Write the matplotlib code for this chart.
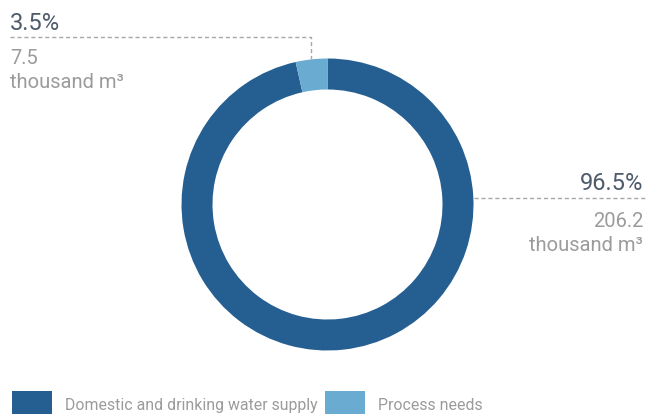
import numpy as np
import matplotlib
matplotlib.use("Agg")
import matplotlib.pyplot as plt
from matplotlib.patches import Rectangle

# ---------------------------------------------------------------------------
# Data
# ---------------------------------------------------------------------------
labels = ["Domestic and drinking water supply", "Process needs"]
shares = [96.5, 3.5]
volumes = ["206.2", "7.5"]
colors = ["#255f92", "#6aabd2"]

TXT_DARK = "#4f5b6b"
TXT_GREY = "#9b9b9b"
LINE_GREY = "#a8a8a8"
FONT = "Roboto"

W, H = 647, 418
fig = plt.figure(figsize=(W / 100, H / 100), dpi=100)
ax = fig.add_axes([0, 0, 1, 1])

cx, cy, r_out, width = 327.5, H - 204.5, 146, 31

ax.pie(
    shares, colors=colors, startangle=90, counterclock=False,
    radius=r_out, center=(cx, cy),
    wedgeprops=dict(width=width, linewidth=0),
)
ax.set_xlim(0, W)
ax.set_ylim(0, H)
ax.set_aspect("equal")
ax.axis("off")

# ---- left label (process needs) -------------------------------------------
mid = np.deg2rad(90 + shares[1] / 100 * 360 / 2)
lx = cx + r_out * np.cos(mid)
ly = cy + r_out * np.sin(mid)
yl = H - 37
ax.plot([10, lx, lx], [yl, yl, ly], ls=(0, (3, 2)), color=LINE_GREY, lw=1)
ax.text(10, yl + 7, f"{shares[1]}%", fontsize=17, color=TXT_DARK,
        family=FONT, ha="left", va="baseline")
ax.text(10, H - 64, volumes[1], fontsize=14.5, color=TXT_GREY,
        family=FONT, ha="left", va="baseline")
ax.text(10, H - 88, "thousand m³", fontsize=14.5, color=TXT_GREY,
        family=FONT, ha="left", va="baseline")

# ---- right label (domestic) -----------------------------------------------
yr = H - 198
ax.plot([cx + r_out, 645], [yr, yr], ls=(0, (3, 2)), color=LINE_GREY, lw=1)
ax.text(643, yr + 8, f"{shares[0]}%", fontsize=17, color=TXT_DARK,
        family=FONT, ha="right", va="baseline")
ax.text(643, H - 227, volumes[0], fontsize=14.5, color=TXT_GREY,
        family=FONT, ha="right", va="baseline")
ax.text(643, H - 251, "thousand m³", fontsize=14.5, color=TXT_GREY,
        family=FONT, ha="right", va="baseline")

# ---- legend ---------------------------------------------------------------
legend_x = [12, 325]
for x0, lab, col in zip(legend_x, labels, colors):
    ax.add_patch(Rectangle((x0, H - 414), 40, 23, color=col, lw=0))
    ax.text(x0 + 53, H - 410, lab, fontsize=11.4, color=TXT_GREY,
            family=FONT, ha="left", va="baseline")

fig.savefig("out.png", dpi=100, facecolor="white")
